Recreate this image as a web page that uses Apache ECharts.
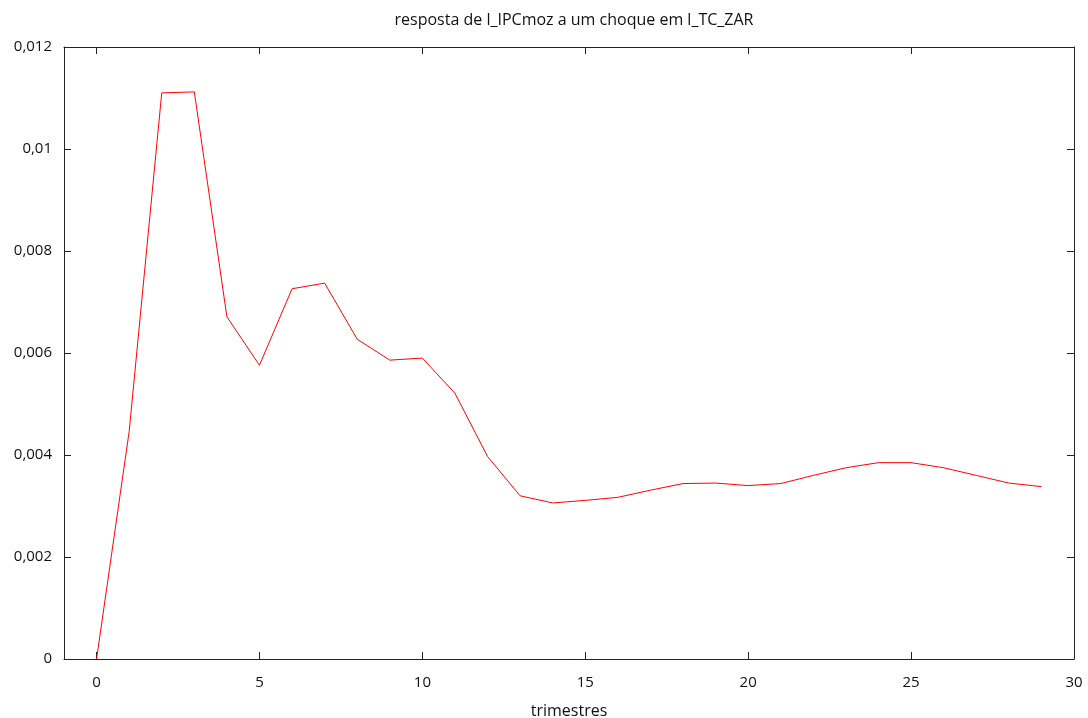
<!DOCTYPE html>
<html>
<head>
<meta charset="utf-8">
<script src="https://cdn.jsdelivr.net/npm/echarts@6/dist/echarts.min.js"></script>
<style>html,body{margin:0;padding:0;background:#fff;}#c{width:1088px;height:718px;}</style>
</head>
<body>
<div id="c"></div>
<script>
const periods = [0,1,2,3,4,5,6,7,8,9,10,11,12,13,14,15,16,17,18,19,20,21,22,23,24,25,26,27,28,29];
const response = [0, 0.00446, 0.01110, 0.01112, 0.00671, 0.00576, 0.00726, 0.00737, 0.00627, 0.00586,
  0.00590, 0.00521, 0.00397, 0.00320, 0.00306, 0.00311, 0.00317, 0.00331, 0.00344, 0.00345,
  0.00340, 0.00344, 0.00360, 0.00375, 0.00385, 0.00385, 0.00375, 0.00360, 0.00345, 0.00338];
const xTicks = [0,5,10,15,20,25,30];
const titleText = 'resposta de l_IPCmoz a um choque em l_TC_ZAR';
const xName = 'trimestres';

const FONT = 'Open Sans';
const axisCol = '#222';
function fmtY(v){
  if (Math.abs(v) < 1e-12) return '0';
  return String(parseFloat(v.toFixed(3))).replace('.', ',');
}

const chart = echarts.init(document.getElementById('c'));
const baseX = {
  type: 'value', min: -1, max: 30,
  axisLine: { show: true, onZero: false, lineStyle: { color: axisCol, width: 1 } },
  axisTick: { show: true, inside: true, length: 7, customValues: xTicks, lineStyle: { color: axisCol } },
  splitLine: { show: false }
};
const baseY = {
  type: 'value', min: 0, max: 0.012, interval: 0.002,
  axisLine: { show: true, onZero: false, lineStyle: { color: axisCol, width: 1 } },
  axisTick: { show: true, inside: true, length: 7, lineStyle: { color: axisCol } },
  splitLine: { show: false }
};
chart.setOption({
  backgroundColor: '#fff',
  animation: false,
  title: {
    text: titleText, left: 569, textAlign: 'center', top: 7,
    textStyle: { fontFamily: FONT, fontWeight: 'normal', fontSize: 16, color: '#111' }
  },
  grid: { left: 64, right: 14, top: 47, bottom: 59, containLabel: false, outerBoundsMode: 'none' },
  xAxis: [
    Object.assign({}, baseX, {
      position: 'bottom',
      name: xName, nameLocation: 'middle', nameGap: 44,
      nameTextStyle: { fontFamily: FONT, fontSize: 16, color: '#111' },
      axisLabel: { show: true, customValues: xTicks, margin: 16, fontFamily: FONT, fontSize: 15, color: '#111' }
    }),
    Object.assign({}, baseX, { position: 'top', axisLabel: { show: false } })
  ],
  yAxis: [
    Object.assign({}, baseY, {
      position: 'left',
      axisLabel: { show: true, margin: 12, fontFamily: FONT, fontSize: 15, color: '#111', formatter: fmtY }
    }),
    Object.assign({}, baseY, { position: 'right', axisLabel: { show: false } })
  ],
  series: [{
    type: 'line',
    data: periods.map((p, i) => [p, response[i]]),
    showSymbol: false, symbol: 'none',
    lineStyle: { color: '#ff0000', width: 1 },
    itemStyle: { color: '#ff0000' }
  }]
});
</script>
</body>
</html>
